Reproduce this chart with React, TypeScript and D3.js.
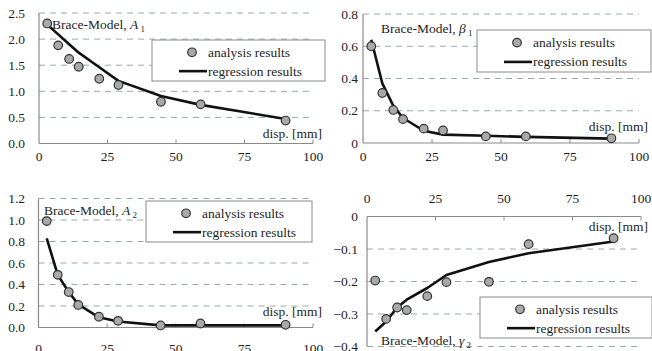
import React from "react";
import * as d3 from "d3";

// displacement [mm] at which the analysis was run
const disp = [3, 7, 11, 14.5, 22, 29, 44.5, 59, 90];

const a1Analysis = [2.3, 1.88, 1.62, 1.47, 1.24, 1.12, 0.8, 0.75, 0.44];
const a1Regression = [2.28, 2.09, 1.9, 1.74, 1.46, 1.2, 0.91, 0.74, 0.47];

const b1Analysis = [0.6, 0.31, 0.205, 0.148, 0.089, 0.078, 0.041, 0.041, 0.029];
const b1Regression = [0.64, 0.37, 0.23, 0.155, 0.076, 0.052, 0.045, 0.038, 0.027];

const a2Analysis = [0.99, 0.49, 0.33, 0.21, 0.1, 0.062, 0.019, 0.037, 0.025];
const a2Regression = [0.83, 0.49, 0.33, 0.215, 0.095, 0.056, 0.02, 0.02, 0.02];

const g2Analysis = [-0.197, -0.315, -0.28, -0.288, -0.245, -0.202, -0.201, -0.085, -0.067];
const g2Regression = [-0.354, -0.323, -0.28, -0.256, -0.22, -0.18, -0.14, -0.113, -0.077];

const xTicks = [0, 25, 50, 75, 100];
const a1Ticks = [0, 0.5, 1, 1.5, 2, 2.5];
const b1Ticks = [0, 0.2, 0.4, 0.6, 0.8];
const a2Ticks = [0, 0.2, 0.4, 0.6, 0.8, 1, 1.2];
const g2Ticks = [0, -0.1, -0.2, -0.3, -0.4];

const FONT = "Liberation Serif, DejaVu Serif, serif";
const FS = 13.5;
const INK = "#1e1e1e";

type PanelProps = {
  analysis: number[];
  regression: number[];
  ticks: number[];
  fmt: (v: number) => string;
  xr: [number, number];
  yr: [number, number]; // [pixel at domain min, pixel at domain max]
  axisTop?: boolean;
  xLabelY: number;
  yLabelX: number;
  symbol: string;
  sub: string;
  title: [number, number];
  disp: [number, number];
  legend: [number, number, number, number];
};

function Panel(p: PanelProps) {
  const x = d3.scaleLinear().domain([0, 100]).range(p.xr);
  const ext = d3.extent(p.ticks) as [number, number];
  const y = d3.scaleLinear().domain(ext).range(p.yr);
  const axisV = p.axisTop ? ext[1] : ext[0];
  const axisY = y(axisV);
  const line = d3
    .line<number>()
    .x((_, i) => x(disp[i]))
    .y((d) => y(d));
  const [lx, ly, lw, lh] = p.legend;
  const tickDir = p.axisTop ? 4 : -4;

  return (
    <g fontFamily={FONT} fontSize={FS} fill={INK}>
      {p.ticks
        .filter((t) => t !== axisV)
        .map((t) => (
          <line
            key={"g" + t}
            x1={x(0)}
            x2={x(100)}
            y1={y(t)}
            y2={y(t)}
            stroke="#9aa8a8"
            strokeWidth={1}
            strokeDasharray="6 5"
          />
        ))}
      <line x1={x(0)} x2={x(0)} y1={y(ext[0])} y2={y(ext[1])} stroke="#8a8a8a" strokeWidth={1.2} />
      <line x1={x(0)} x2={x(100)} y1={axisY} y2={axisY} stroke="#8a8a8a" strokeWidth={1.2} />
      {xTicks.map((t) => (
        <g key={"x" + t}>
          {t > 0 && (
            <line x1={x(t)} x2={x(t)} y1={axisY} y2={axisY + tickDir} stroke="#8a8a8a" strokeWidth={1} />
          )}
          <text x={x(t)} y={p.xLabelY} textAnchor="middle" fontFamily={FONT}>
            {t}
          </text>
        </g>
      ))}
      {p.ticks.map((t) => (
        <text key={"y" + t} x={p.yLabelX} y={y(t) + 4.5} textAnchor="end" fontFamily={FONT}>
          {p.fmt(t)}
        </text>
      ))}
      <path d={line(p.regression) || ""} fill="none" stroke="#111" strokeWidth={2.6} strokeLinejoin="round" />
      {p.analysis.map((v, i) => (
        <circle key={"p" + i} cx={x(disp[i])} cy={y(v)} r={4.3} fill="#a9a9a9" stroke="#333" strokeWidth={1.2} />
      ))}
      <text x={p.title[0]} y={p.title[1]} fontFamily={FONT}>
        Brace-Model,{" "}
        <tspan fontStyle="italic">{p.symbol}</tspan>
        <tspan fontSize={9} dy={3}>
          {" " + p.sub}
        </tspan>
      </text>
      <text x={p.disp[0]} y={p.disp[1]} textAnchor="end" fontFamily={FONT}>
        disp. [mm]
      </text>
      <rect x={lx} y={ly} width={lw} height={lh} fill="#fff" stroke="#8a8a8a" strokeWidth={1} />
      <circle cx={lx + 40} cy={ly + lh * 0.3} r={4.3} fill="#a9a9a9" stroke="#333" strokeWidth={1.2} />
      <text x={lx + 56} y={ly + lh * 0.3 + 4.5} fontFamily={FONT}>
        analysis results
      </text>
      <line x1={lx + 27} x2={lx + 55} y1={ly + lh * 0.76} y2={ly + lh * 0.76} stroke="#111" strokeWidth={2.6} />
      <text x={lx + 56} y={ly + lh * 0.76 + 4.5} fontFamily={FONT}>
        regression results
      </text>
    </g>
  );
}

const f1 = d3.format(".1f");
const fz = (v: number) => (v === 0 ? "0" : d3.format(".1f")(v));

export default function App() {
  return (
    <svg width={652} height={351} style={{ position: "absolute", left: 0, top: 0, background: "#fff" }}>
      <Panel
        analysis={a1Analysis}
        regression={a1Regression}
        ticks={a1Ticks}
        fmt={f1}
        xr={[39, 313]}
        yr={[143.5, 13]}
        xLabelY={161}
        yLabelX={25}
        symbol="A"
        sub="1"
        title={[52, 29]}
        disp={[322, 138]}
        legend={[152, 40, 173, 41]}
      />
      <Panel
        analysis={b1Analysis}
        regression={b1Regression}
        ticks={b1Ticks}
        fmt={fz}
        xr={[363, 639]}
        yr={[143, 14]}
        xLabelY={161}
        yLabelX={358}
        symbol="β"
        sub="1"
        title={[381, 33]}
        disp={[648, 131]}
        legend={[477, 30, 174, 42]}
      />
      <Panel
        analysis={a2Analysis}
        regression={a2Regression}
        ticks={a2Ticks}
        fmt={f1}
        xr={[38.5, 313]}
        yr={[327.5, 198.5]}
        xLabelY={353}
        yLabelX={25}
        symbol="A"
        sub="2"
        title={[44, 215]}
        disp={[322, 316]}
        legend={[146, 201, 166, 41]}
      />
      <Panel
        analysis={g2Analysis}
        regression={g2Regression}
        ticks={g2Ticks}
        fmt={fz}
        xr={[367, 641]}
        yr={[346.5, 216.5]}
        axisTop={true}
        xLabelY={203}
        yLabelX={358}
        symbol="γ"
        sub="2"
        title={[381, 345]}
        disp={[648, 231]}
        legend={[480, 297, 172, 41]}
      />
    </svg>
  );
}
